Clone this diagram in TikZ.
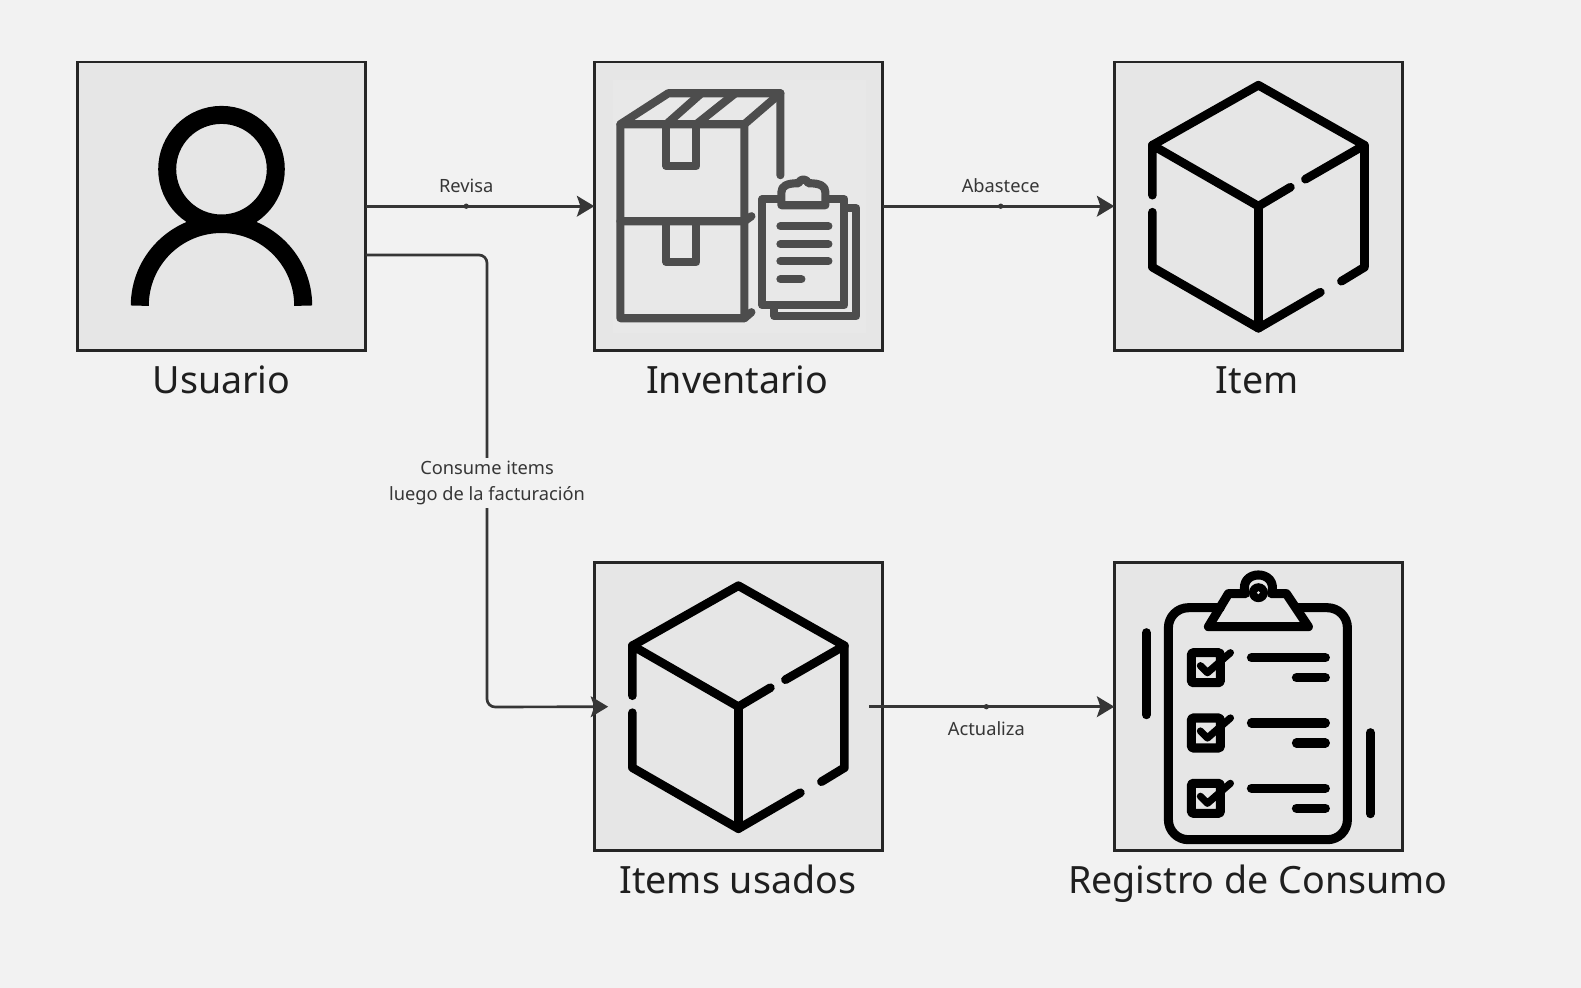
\documentclass[tikz,border=0pt]{standalone}
\usepackage{fontspec}
\setmainfont{Noto Sans}
\usetikzlibrary{arrows.meta,positioning}
\definecolor{paper}{HTML}{F2F2F2}
\definecolor{boxfill}{HTML}{E6E6E6}
\definecolor{imagefill}{HTML}{E8E8E8}
\definecolor{boxline}{HTML}{262626}
\definecolor{connline}{HTML}{363636}
\definecolor{icongray}{HTML}{4D4D4D}
\begin{document}
\begin{tikzpicture}[x=0.75pt,y=-0.75pt,
  iconbox/.style = {shape=rectangle, draw=boxline, fill=boxfill, line width=2.1pt, minimum size=216.2pt, inner sep=0pt, outer sep=0pt},
  caption/.style = {anchor=base, text=black!88, font=\fontsize{28.2}{33}\selectfont},
  edgetext/.style = {align=center, text=connline, inner sep=0pt, font=\fontsize{13.7}{19.5}\selectfont},
  edgedot/.style = {shape=circle, fill=connline, minimum size=4pt, inner sep=0pt},
  conn/.style = {draw=connline, line width=2pt, -{Stealth[length=13pt,width=15.5pt,inset=2.6pt]}},
  iconline/.style = {line width=6.5pt, line cap=round, line join=round},
  cubeicon/.pic = {
    \draw[iconline] (-106,-61) -- (0,-121) -- (106,-61) -- (47,-27);
    \draw[iconline] (32,-19) -- (0,0) -- (-106,-61) -- (-106,-11);
    \draw[iconline] (-106,6) -- (-106,61) -- (0,122) -- (62,86);
    \draw[iconline] (83,75) -- (106,61) -- (106,-61);
    \draw[iconline] (0,0) -- (0,122);
  },
  personicon/.pic = {
    \draw[line width=13.5pt] (0,-37) circle (54.3);
    \draw[line width=13.5pt] (-81.7,99.5) arc[start angle=180, end angle=360, radius=81.7];
  },
  stockicon/.pic = {
    \fill[imagefill] (-125,-126) rectangle (128,127);
    \begin{scope}[iconline, icongray, line width=6.1pt]
      \draw (42,-31) -- (42,-113) -- (-70,-113) -- (-118,-82) -- (-118,112) -- (6,112) -- (6,-82);
      \draw (-118,-82) -- (6,-82) -- (42,-113);
      \draw (-118,15) -- (6,15) -- (13,10);
      \draw (6,112) -- (13,106);
      \draw (-72,-82) -- (-37,-113);
      \draw (-42,-82) -- (-3,-113);
      \draw (-72,-82) -- (-72,-40) -- (-42,-40) -- (-42,-82);
      \draw (-72,15) -- (-72,56) -- (-42,56) -- (-42,15);
      \draw (24,-7) rectangle (106,99);
      \draw (106,2) -- (118,2) -- (118,110) -- (36,110) -- (36,99);
      \filldraw[fill=boxfill] (43,-1) -- (43,-14) .. controls (43,-20) and (48,-23) .. (60,-23) .. controls (62,-28) and (68,-28) .. (70,-23) .. controls (82,-23) and (87,-20) .. (87,-14) -- (87,-1) -- cycle;
      \foreach \liney in {20,38,55} \draw (42,\liney) -- (90,\liney);
      \draw (42,73) -- (63,73);
    \end{scope}
  },
  checkicon/.pic = {
    \begin{scope}[iconline, line width=6.8pt]
      \draw[rounded corners=15] (-38,-99) -- (-90,-99) -- (-90,133) -- (89,133) -- (89,-99) -- (38,-99);
      \draw (-50,-80) -- (-30,-113) -- (-13,-113) .. controls (-21,-138) and (21,-138) .. (13,-113) -- (28,-113) -- (50,-80) -- cycle;
      \fill (0,-114) circle (9.5);
      \fill[boxfill] (0,-114) circle (1.6);
      \draw (-112,-74) -- (-112,8);
      \draw (112,26) -- (112,107);
      \foreach \rowy in {0,65.3,130.6} {
        \draw[rounded corners=1] (-67,\rowy-54) rectangle (-38,\rowy-24);
        \draw[line width=5.4pt] (-58,\rowy-41) -- (-51,\rowy-34) -- (-28,\rowy-54);
        \draw (-7,\rowy-49) -- (67,\rowy-49);
        \draw (38,\rowy-29) -- (67,\rowy-29);
      }
    \end{scope}
  }]

  \fill[paper] (0,0) rectangle (1581,988);

  \node[iconbox] (usuario) at (221.5,206.2) {};
  \node[iconbox] (inventario) at (738.4,206.2) {};
  \node[iconbox] (item) at (1258.4,206.2) {};
  \node[iconbox] (usados) at (738.4,706.7) {};
  \node[iconbox] (registro) at (1258.4,706.7) {};

  \pic at (usuario) {personicon};
  \pic at (inventario) {stockicon};
  \pic at (item) {cubeicon};
  \pic at (usados) {cubeicon};
  \pic at (registro) {checkicon};

  \node[caption] (usuariotext) at (221.5,393.2) {Usuario};
  \node[caption] (inventariotext) at (737.3,393.2) {Inventario};
  \node[caption] (itemtext) at (1257.3,393.2) {Item};
  \node[caption] (usadostext) at (737.8,893.2) {Items usados};
  \node[caption] (registrotext) at (1257.8,893.2) {Registro de Consumo};

  \draw[conn] (usuario.east) -- node[edgedot, pos=.44] (revisadot) {} (inventario.west);
  \draw[conn] (inventario.east) -- node[edgedot, pos=.51] (abastecedot) {} (item.west);
  \draw[conn] ([xshift=-10pt]usados.east) -- node[edgedot, pos=.478] (actualizadot) {} (registro.west);

  \node[edgetext, above=7pt of revisadot] (revisatext) {Revisa};
  \node[edgetext, above=7pt of abastecedot] (abastecetext) {Abastece};
  \node[edgetext, below=8pt of actualizadot] (actualizatext) {Actualiza};

  \coordinate (codoa) at (487,255);
  \coordinate (codob) at (487,707);
  \draw[conn, rounded corners=6pt] ([yshift=-36.6pt]usuario.east) -- (codoa) -- (codob) -- ([xshift=10.4pt]usados.west);
  \node[edgetext, fill=paper, inner ysep=2.6pt] (consumetext) at (487,483) {Consume items\\luego de la facturación};
\end{tikzpicture}
\end{document}
